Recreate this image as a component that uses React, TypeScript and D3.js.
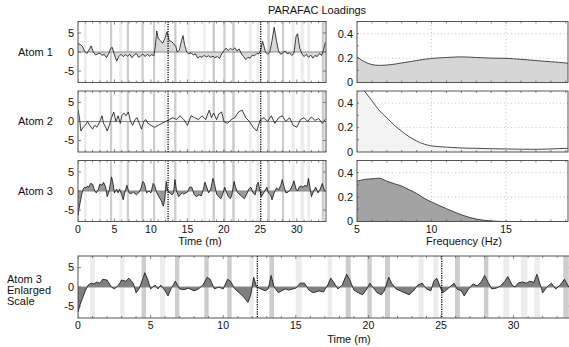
import React from "react";
import * as d3 from "d3";

// ---------- DATA ----------
const atom1T = [0,0.3,0.6,0.9,1.2,1.5,1.8,2.1,2.4,2.7,3.0,3.3,3.6,3.9,4.2,4.5,4.7,5.0,5.3,5.6,5.9,6.2,6.5,6.8,7.1,7.4,7.7,8.0,8.3,8.6,8.9,9.2,9.5,9.8,10.1,10.4,10.6,10.8,11.0,11.3,11.6,11.9,12.2,12.5,12.8,13.1,13.4,13.6,13.9,14.2,14.4,14.6,14.9,15.2,15.5,15.8,16.1,16.4,16.7,17.0,17.3,17.6,17.9,18.2,18.5,18.8,19.1,19.4,19.7,20.0,20.3,20.6,20.9,21.2,21.5,21.8,22.1,22.4,22.7,23.0,23.3,23.6,23.9,24.2,24.5,24.8,25.0,25.3,25.5,25.7,26.0,26.3,26.6,26.9,27.2,27.5,27.8,28.1,28.4,28.7,29.0,29.3,29.6,29.9,30.1,30.4,30.7,31.0,31.3,31.6,31.9,32.2,32.5,32.8,33.1,33.4,33.7,33.9];
const atom1V = [2.2,2.0,1.5,0.2,-0.4,0.5,1.6,0.0,-0.8,-0.5,-0.3,-0.9,-0.6,-1.5,-0.5,1.0,1.2,-0.8,-2.4,-1.2,-0.6,-1.2,-0.7,-1.1,-0.6,-1.5,-0.8,-0.4,-1.4,-1.0,-0.5,-1.2,-0.6,-1.1,-0.7,-1.0,1.5,5.5,3.5,3.0,2.3,3.5,5.3,3.0,2.8,2.2,1.5,0.0,0.5,3.0,4.3,2.0,0.0,-0.5,-0.2,-0.8,-0.5,-1.6,-1.2,-1.4,-0.9,-1.3,-1.0,-1.4,-1.1,-1.5,-1.2,-1.7,-0.5,0.3,1.0,0.4,1.0,0.5,1.1,0.3,0.8,-0.5,-1.2,-2.0,-1.4,-1.6,-0.8,-1.0,-0.4,-0.5,0.3,2.8,1.5,0.0,-0.6,0.1,3.0,6.5,3.0,0.2,-0.6,-0.2,0.3,-0.5,-0.2,-0.9,-0.4,4.2,4.8,1.0,-0.5,-1.2,-0.6,-1.4,-0.8,-1.6,-0.9,-1.2,-0.4,-0.9,0.8,2.5];

const atom2T = [0,0.2,0.4,0.7,1.0,1.3,1.6,2.0,2.3,2.6,3.0,3.3,3.5,3.8,4.0,4.3,4.6,4.9,5.2,5.5,5.8,6.0,6.3,6.6,6.9,7.2,7.5,7.8,8.1,8.4,8.7,9.0,9.3,9.6,10.0,10.5,11.0,11.5,12.0,12.5,13.0,13.5,14.0,14.5,15.0,15.5,16.0,16.5,17.0,17.5,18.0,18.3,18.6,19.0,19.3,19.7,20.0,20.5,21.0,21.5,22.0,22.5,23.0,23.5,24.0,24.5,25.0,25.5,26.0,26.5,27.0,27.5,28.0,28.5,29.0,29.5,30.0,30.5,31.0,31.5,32.0,32.5,33.0,33.5,33.9];
const atom2V = [3.0,1.0,-2.5,-1.5,-1.0,0.0,-1.0,-2.0,-1.0,-1.5,0.0,1.5,-0.5,-1.5,-2.5,-1.0,1.0,2.5,0.0,1.5,-0.5,1.5,2.2,1.5,2.5,0.0,-1.0,0.5,1.0,-0.5,-2.0,0.0,0.5,-0.5,-1.0,-1.5,-1.0,-0.5,0.0,0.5,1.0,0.5,1.5,0.5,-1.0,1.5,1.0,0.5,1.5,0.5,3.0,1.0,2.2,0.5,2.0,2.5,0.0,-0.5,0.5,1.0,2.5,3.0,1.0,0.0,-1.5,-2.5,0.5,1.0,0.0,1.5,-0.5,1.0,1.5,0.0,1.0,-1.0,-1.5,0.5,1.0,0.0,1.2,0.3,0.8,-0.5,0.6];

const atom3T = [0,0.15,0.3,0.5,0.7,0.9,1.1,1.3,1.5,1.7,2.0,2.3,2.5,2.8,3.0,3.3,3.5,3.8,4.0,4.2,4.5,4.6,4.8,5.0,5.3,5.5,5.7,6.0,6.2,6.4,6.7,7.0,7.3,7.6,8.0,8.3,8.6,8.9,9.1,9.4,9.7,10.0,10.3,10.5,10.8,11.1,11.4,11.7,11.9,12.1,12.3,12.6,12.9,13.1,13.3,13.5,13.8,14.0,14.3,14.5,15.0,15.3,15.6,15.9,16.2,16.6,16.9,17.2,17.4,17.6,17.9,18.2,18.5,18.7,19.0,19.3,19.6,19.9,20.1,20.3,20.6,20.9,21.1,21.4,21.6,21.9,22.2,22.5,22.8,23.1,23.4,23.7,24.0,24.3,24.5,24.7,24.9,25.1,25.3,25.6,25.9,26.1,26.4,26.6,26.9,27.2,27.5,27.8,28.0,28.2,28.5,28.8,29.1,29.4,29.6,29.9,30.1,30.3,30.6,30.9,31.1,31.4,31.6,31.8,32.0,32.3,32.6,32.9,33.2,33.5,33.8];
const atom3V = [-6.5,-4.5,-3.0,-1.0,0.5,1.0,0.8,1.3,1.0,2.0,1.8,0.0,-0.5,0.5,1.8,1.5,2.3,1.0,-1.5,-0.5,2.5,3.7,2.0,-0.5,0.5,-0.5,0.5,-1.0,-2.3,-0.5,1.5,-0.5,-0.7,-0.3,-1.0,-0.5,0.5,2.5,2.0,-0.5,0.0,-0.5,2.0,1.5,-0.5,-1.5,-2.5,-4.0,-2.0,2.5,0.0,-0.5,-1.0,-0.5,3.0,0.0,-1.5,-1.0,-0.5,-0.8,-0.3,1.0,1.0,-0.8,-1.5,-1.0,-1.3,0.5,2.3,1.3,-0.5,0.5,3.3,2.0,-0.8,-1.5,-2.0,-0.5,1.0,0.0,-1.5,-2.0,-1.0,2.5,1.0,-0.5,-1.0,-1.5,-2.0,-1.0,0.5,1.0,-0.5,-1.0,1.5,2.3,0.5,-1.5,-1.0,0.0,1.0,-0.5,-1.0,-2.3,-0.5,0.8,0.3,1.5,3.0,1.5,-0.5,-0.3,0.3,1.5,2.7,0.5,0.0,1.0,1.3,1.0,1.5,1.2,3.3,1.0,-1.5,0.0,1.0,-0.5,0.5,2.0,0.0];

const freqs = [5,5.5,6,6.5,7,7.5,8,8.5,9,9.5,10,11,12,13,14,15,16,17,18,19,19.2];
const spec1 = [0.21,0.17,0.147,0.14,0.143,0.15,0.16,0.17,0.18,0.19,0.197,0.205,0.21,0.205,0.2,0.198,0.19,0.18,0.17,0.16,0.157];
const spec2 = [0.58,0.5,0.42,0.34,0.28,0.22,0.17,0.125,0.09,0.065,0.05,0.04,0.033,0.03,0.027,0.025,0.023,0.022,0.025,0.03,0.03];
const spec3 = [0.33,0.345,0.35,0.355,0.33,0.31,0.29,0.26,0.23,0.19,0.16,0.105,0.055,0.02,0.005,0,0,0,0,0,0];

const lightBands = [[0.83,1.17],[2.9,3.2],[5.65,6.0],[11.8,12.1],[15.0,15.4],[17.2,17.5],[23.45,23.8],[24.47,24.81],[29.3,29.7],[30.5,30.95],[31.43,31.8]];
const darkBands = [[4.38,4.68],[6.68,6.98],[8.7,9.0],[10.28,10.58],[13.18,13.5],[18.44,18.78],[19.93,20.23],[21.14,21.49],[25.96,26.3],[27.96,28.26],[33.42,33.8]];
const markerTimes = [12.35, 25.05];

const timeTicks = [0,5,10,15,20,25,30];
const valueTicks = [5,0,-5];
const freqTicks = [5,10,15];
const specTicks = [0,0.2,0.4];
const atomLabels = ["Atom 1","Atom 2","Atom 3"];

const FONT = "'Liberation Sans', Arial, Helvetica, sans-serif";
const TIME_DOMAIN: [number, number] = [0, 34];
const VAL_DOMAIN: [number, number] = [-8, 8];
const FREQ_DOMAIN: [number, number] = [5, 19.15];

type PanelProps = { x0: number; x1: number; top: number; bottom: number };

function TimePanel({ x0, x1, top, bottom, t, v, fill, id, labels }: PanelProps & { t: number[]; v: number[]; fill: string; id: string; labels: boolean }) {
  const x = d3.scaleLinear().domain(TIME_DOMAIN).range([x0, x1]);
  const y = d3.scaleLinear().domain(VAL_DOMAIN).range([bottom, top]);
  const pts = t.map((tt, i) => [tt, v[i]] as [number, number]);
  const area = d3.area<[number, number]>().x(d => x(d[0])).y0(y(0)).y1(d => y(d[1]));
  const line = d3.line<[number, number]>().x(d => x(d[0])).y(d => y(d[1]));
  const minor = d3.range(0, 35, 1);
  return (
    <g>
      <defs>
        <clipPath id={id}><rect x={x0} y={top} width={x1 - x0} height={bottom - top} /></clipPath>
      </defs>
      <rect x={x0} y={top} width={x1 - x0} height={bottom - top} fill="#fff" />
      <g clipPath={`url(#${id})`}>
        {lightBands.map((b, i) => (
          <rect key={"l" + i} x={x(b[0])} y={top} width={x(b[1]) - x(b[0])} height={bottom - top} fill="#ececec" />
        ))}
        {darkBands.map((b, i) => (
          <rect key={"d" + i} x={x(b[0])} y={top} width={x(b[1]) - x(b[0])} height={bottom - top} fill="#cdcdcd" />
        ))}
        <path d={area(pts) || ""} fill={fill} />
        <line x1={x0} x2={x1} y1={y(0)} y2={y(0)} stroke="#8a8a8a" strokeWidth={1} />
        <path d={line(pts) || ""} fill="none" stroke="#111" strokeWidth={0.8} />
        {markerTimes.map((m, i) => (
          <line key={i} x1={x(m)} x2={x(m)} y1={top} y2={bottom} stroke="#000" strokeWidth={1.3} strokeDasharray="1.2,1.2" />
        ))}
        {minor.map(m => (
          <g key={m}>
            <line x1={x(m)} x2={x(m)} y1={top} y2={top + (m % 5 === 0 ? 3 : 2)} stroke="#555" strokeWidth={0.7} />
            <line x1={x(m)} x2={x(m)} y1={bottom} y2={bottom - (m % 5 === 0 ? 3 : 2)} stroke="#555" strokeWidth={0.7} />
          </g>
        ))}
        {valueTicks.map(vt => (
          <g key={vt}>
            <line x1={x0} x2={x0 + 3} y1={y(vt)} y2={y(vt)} stroke="#555" strokeWidth={0.7} />
            <line x1={x1} x2={x1 - 3} y1={y(vt)} y2={y(vt)} stroke="#555" strokeWidth={0.7} />
          </g>
        ))}
      </g>
      <rect x={x0} y={top} width={x1 - x0} height={bottom - top} fill="none" stroke="#444" strokeWidth={0.9} />
      {valueTicks.map(vt => (
        <text key={vt} x={x0 - 4} y={y(vt)} dy="0.35em" textAnchor="end" fontSize={11} fontFamily={FONT} fill="#111">{vt}</text>
      ))}
      {labels && timeTicks.map(tt => (
        <text key={tt} x={x(tt)} y={bottom + 11} textAnchor="middle" fontSize={10.5} fontFamily={FONT} fill="#111">{tt}</text>
      ))}
    </g>
  );
}

function FreqPanel({ x0, x1, top, bottom, s, fill, id, labels }: PanelProps & { s: number[]; fill: string; id: string; labels: boolean }) {
  const x = d3.scaleLinear().domain(FREQ_DOMAIN).range([x0, x1]);
  const y = d3.scaleLinear().domain([0, 0.5]).range([bottom, top]);
  const pts = freqs.map((f, i) => [f, s[i]] as [number, number]);
  const area = d3.area<[number, number]>().curve(d3.curveMonotoneX).x(d => x(d[0])).y0(y(0)).y1(d => y(d[1]));
  const line = d3.line<[number, number]>().curve(d3.curveMonotoneX).x(d => x(d[0])).y(d => y(d[1]));
  const minor = d3.range(5, 20, 1);
  return (
    <g>
      <defs>
        <clipPath id={id}><rect x={x0} y={top} width={x1 - x0} height={bottom - top} /></clipPath>
      </defs>
      <rect x={x0} y={top} width={x1 - x0} height={bottom - top} fill="#fff" />
      <g clipPath={`url(#${id})`}>
        {[10, 15].map(f => (
          <line key={f} x1={x(f)} x2={x(f)} y1={top} y2={bottom} stroke="#b5b5b5" strokeWidth={0.8} strokeDasharray="1,2.5" />
        ))}
        {[0.2, 0.4].map(v => (
          <line key={v} x1={x0} x2={x1} y1={y(v)} y2={y(v)} stroke="#b5b5b5" strokeWidth={0.8} strokeDasharray="1,2.5" />
        ))}
        <path d={area(pts) || ""} fill={fill} />
        <path d={line(pts) || ""} fill="none" stroke="#222" strokeWidth={0.8} />
        {minor.map(m => (
          <g key={m}>
            <line x1={x(m)} x2={x(m)} y1={top} y2={top + 2} stroke="#555" strokeWidth={0.7} />
            <line x1={x(m)} x2={x(m)} y1={bottom} y2={bottom - 2} stroke="#555" strokeWidth={0.7} />
          </g>
        ))}
        {[0.1, 0.2, 0.3, 0.4].map(v => (
          <line key={v} x1={x0} x2={x0 + 2} y1={y(v)} y2={y(v)} stroke="#555" strokeWidth={0.7} />
        ))}
      </g>
      <rect x={x0} y={top} width={x1 - x0} height={bottom - top} fill="none" stroke="#444" strokeWidth={0.9} />
      {specTicks.map(v => (
        <text key={v} x={x0 - 4} y={y(v)} dy="0.35em" textAnchor="end" fontSize={11} fontFamily={FONT} fill="#111">{v}</text>
      ))}
      {labels && freqTicks.map(f => (
        <text key={f} x={x(f)} y={bottom + 11} textAnchor="middle" fontSize={10.5} fontFamily={FONT} fill="#111">{f}</text>
      ))}
    </g>
  );
}

export default function App() {
  const rows = [
    { top: 21.5, bottom: 82.5 },
    { top: 91, bottom: 152 },
    { top: 160.5, bottom: 221.5 },
  ];
  const series = [
    { t: atom1T, v: atom1V, fill: "#d9d9d9", s: spec1, sfill: "#d6d6d6" },
    { t: atom2T, v: atom2V, fill: "#f2f2f2", s: spec2, sfill: "#f3f3f3" },
    { t: atom3T, v: atom3V, fill: "#9a9a9a", s: spec3, sfill: "#a3a3a3" },
  ];
  return (
    <svg width={569} height={347} style={{ position: "absolute", left: 0, top: 0, background: "#fff" }}>
      <rect width={569} height={347} fill="#fff" />
      <text x={317} y={14} textAnchor="middle" fontSize={11} fontFamily={FONT} fill="#111">PARAFAC Loadings</text>
      {rows.map((r, i) => (
        <g key={i}>
          <text x={18} y={(r.top + r.bottom) / 2} dy="0.35em" fontSize={11} fontFamily={FONT} fill="#111">{atomLabels[i]}</text>
          <TimePanel x0={78} x1={326} top={r.top} bottom={r.bottom} t={series[i].t} v={series[i].v} fill={series[i].fill} id={"tc" + i} labels={i === 2} />
          <FreqPanel x0={357} x1={568} top={r.top} bottom={r.bottom} s={series[i].s} fill={series[i].sfill} id={"fc" + i} labels={i === 2} />
        </g>
      ))}
      <text x={200} y={245} textAnchor="middle" fontSize={11} fontFamily={FONT} fill="#111">Time (m)</text>
      <text x={464} y={245} textAnchor="middle" fontSize={11} fontFamily={FONT} fill="#111">Frequency (Hz)</text>
      <text x={7} y={283} fontSize={11} fontFamily={FONT} fill="#111">Atom 3</text>
      <text x={7} y={294} fontSize={11} fontFamily={FONT} fill="#111">Enlarged</text>
      <text x={7} y={305} fontSize={11} fontFamily={FONT} fill="#111">Scale</text>
      <TimePanel x0={78} x1={571.7} top={256} bottom={318} t={atom3T} v={atom3V} fill="#7f7f7f" id="bc" labels={true} />
      <text x={349} y={343} textAnchor="middle" fontSize={11} fontFamily={FONT} fill="#111">Time (m)</text>
    </svg>
  );
}
